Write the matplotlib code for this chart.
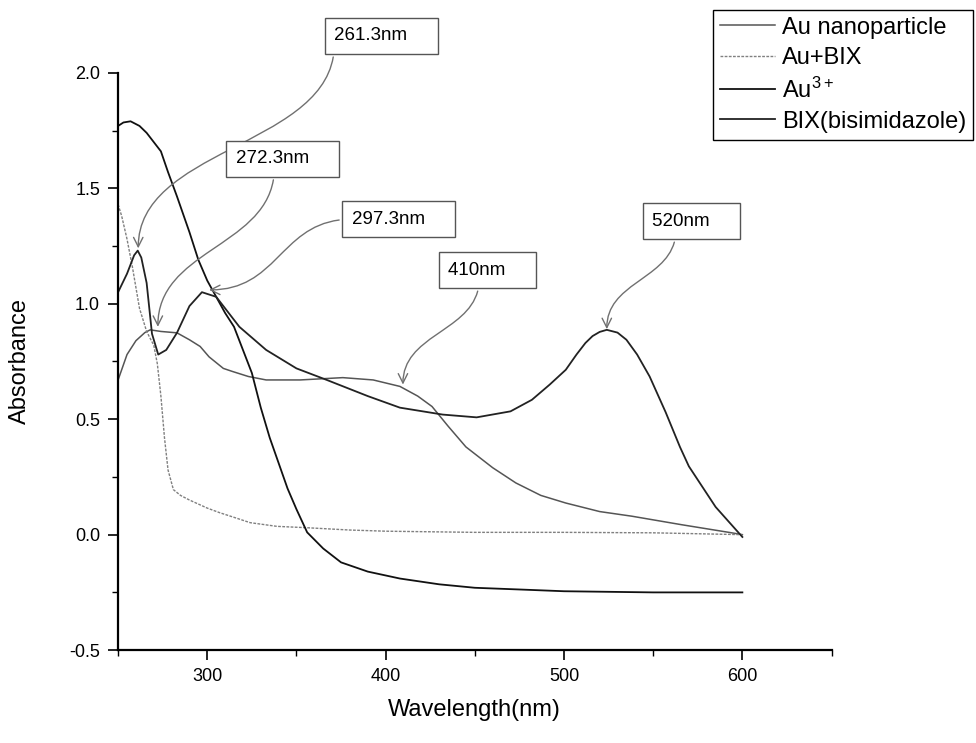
import matplotlib
matplotlib.use("Agg")
import matplotlib.pyplot as plt
from matplotlib.patches import ConnectionStyle
from matplotlib.path import Path
from matplotlib.ticker import MultipleLocator, FormatStrFormatter

plt.rcParams['font.family'] = ['Liberation Sans', 'DejaVu Sans']
plt.rcParams['axes.unicode_minus'] = False
plt.rcParams['mathtext.default'] = 'regular'

# --- data ---
wl_np = [250, 255, 260, 265, 268, 274, 283, 290, 296, 301, 309, 314, 323, 333, 352, 376, 393,
         408, 418, 426, 435, 445, 460, 473, 487, 501, 520, 538, 566, 594, 600]
abs_np = [0.67, 0.78, 0.84, 0.875, 0.887, 0.88, 0.874, 0.844, 0.815, 0.77, 0.72, 0.707, 0.685,
          0.67, 0.67, 0.68, 0.67, 0.642, 0.60, 0.555, 0.47, 0.38, 0.29, 0.224, 0.17, 0.137,
          0.10, 0.08, 0.043, 0.008, 0.0]

wl_aubix = [250, 252, 255, 258, 262, 266, 270, 272, 274, 276, 278, 281, 285, 290, 300, 307,
            315, 324, 339, 356, 380, 400, 450, 500, 550, 600]
abs_aubix = [1.43, 1.38, 1.28, 1.16, 0.98, 0.88, 0.82, 0.74, 0.60, 0.42, 0.28, 0.195, 0.17,
             0.15, 0.115, 0.095, 0.075, 0.052, 0.036, 0.03, 0.02, 0.015, 0.01, 0.01, 0.008, 0.0]

wl_au3 = [250, 253, 257, 262, 266, 270, 274, 278, 283, 290, 295, 300, 305, 310, 315, 320, 325,
          330, 335, 340, 345, 350, 356, 365, 375, 390, 408, 430, 450, 477, 500, 550, 600]
abs_au3 = [1.77, 1.785, 1.79, 1.77, 1.74, 1.70, 1.66, 1.57, 1.465, 1.31, 1.19, 1.10, 1.03, 0.96,
           0.90, 0.80, 0.70, 0.55, 0.42, 0.31, 0.20, 0.11, 0.01, -0.06, -0.12, -0.16, -0.19,
           -0.215, -0.23, -0.238, -0.245, -0.25, -0.25]

wl_bix = [250, 255, 259, 261, 263, 266, 269, 272.5, 277, 283, 290, 297, 305, 318, 333, 350, 367,
          390, 408, 432, 451, 470, 482, 492, 501, 507, 512, 516, 520, 524, 530, 535, 541, 548,
          557, 565, 570, 585, 600]
abs_bix = [1.05, 1.13, 1.21, 1.23, 1.20, 1.09, 0.87, 0.78, 0.80, 0.874, 0.99, 1.05, 1.03, 0.90,
           0.80, 0.72, 0.67, 0.60, 0.55, 0.52, 0.508, 0.534, 0.584, 0.65, 0.714, 0.78, 0.83,
           0.86, 0.878, 0.887, 0.875, 0.844, 0.78, 0.685, 0.53, 0.38, 0.296, 0.12, -0.01]

peak_labels = ['261.3nm', '272.3nm', '297.3nm', '410nm', '520nm']
peak_x = [261.3, 272.3, 301, 409.7, 524]
peak_y = [1.24, 0.90, 1.06, 0.65, 0.89]


class SCurve(ConnectionStyle._Base):
    """cubic S-shaped connector, like the Origin callouts"""
    def __init__(self, vertical=True):
        self.vertical = vertical

    def connect(self, posA, posB):
        (x1, y1), (x2, y2) = posA, posB
        if self.vertical:
            c1 = (x1, (y1 + y2) / 2)
            c2 = (x2, (y1 + y2) / 2)
        else:
            c1 = ((x1 + x2) / 2, y1)
            c2 = ((x1 + x2) / 2, y2)
        return Path([posA, c1, c2, posB],
                    [Path.MOVETO, Path.CURVE4, Path.CURVE4, Path.CURVE4])


fig = plt.figure(figsize=(9.76, 7.43), dpi=100)
ax = fig.add_axes([0.121, 0.125, 0.731, 0.777])

ax.plot(wl_np, abs_np, color='#555555', lw=1.1, label='Au nanoparticle')
ax.plot(wl_aubix, abs_aubix, color='#808080', lw=1.0, ls=(0, (2, 1)), label='Au+BIX')
ax.plot(wl_au3, abs_au3, color='#111111', lw=1.3, label='Au$^{3+}$')
ax.plot(wl_bix, abs_bix, color='#222222', lw=1.3, label='BIX(bisimidazole)')

# callout boxes (centre positions in data units)
box_pos = [(397.6, 2.16), (342.4, 1.628), (407.4, 1.366), (456.9, 1.146), (571.6, 1.358)]
rel = [(0, 0), (0.41, 0), (0, 0.5), (0.4, 0), (0.3, 0)]
vert = [True, True, False, True, True]
for lab, px, py, bp, rp, v in zip(peak_labels, peak_x, peak_y, box_pos, rel, vert):
    ax.annotate(lab + '    ', xy=(px, py), xytext=bp, textcoords='data',
                ha='center', va='center', fontsize=13.5, annotation_clip=False,
                bbox=dict(boxstyle='square,pad=0.5', fc='white', ec='#555555', lw=1.0),
                arrowprops=dict(arrowstyle='->,head_length=0.5,head_width=0.25',
                                connectionstyle=SCurve(v), color='#707070', lw=1.0,
                                relpos=rp, shrinkB=0))

ax.set_xlim(250, 650)
ax.set_ylim(-0.5, 2.0)
ax.xaxis.set_major_locator(MultipleLocator(100))
ax.xaxis.set_minor_locator(MultipleLocator(50))
ax.yaxis.set_major_locator(MultipleLocator(0.5))
ax.yaxis.set_minor_locator(MultipleLocator(0.25))
ax.yaxis.set_major_formatter(FormatStrFormatter('%.1f'))
ax.set_xticks([300, 400, 500, 600])
ax.tick_params(which='major', direction='out', length=7, width=1.2, labelsize=13, pad=6)
ax.tick_params(which='minor', direction='out', length=4, width=1.0)

ax.spines['top'].set_visible(False)
ax.spines['right'].set_visible(False)
ax.spines['left'].set_linewidth(1.6)
ax.spines['bottom'].set_linewidth(1.6)

ax.set_xlabel('Wavelength(nm)', fontsize=17)
ax.set_ylabel('Absorbance', fontsize=17)
ax.yaxis.set_label_coords(-0.122, 0.5)
ax.xaxis.set_label_coords(0.5, -0.085)

leg = ax.legend(loc='upper right', bbox_to_anchor=(0.997, 0.987), bbox_transform=fig.transFigure,
                fontsize=17, frameon=True, fancybox=False, edgecolor='black', framealpha=1,
                borderaxespad=0, labelspacing=0.35, handlelength=2.3, handletextpad=0.3,
                borderpad=0.3)
leg.get_frame().set_linewidth(1.0)

plt.savefig('out.png', dpi=100)
